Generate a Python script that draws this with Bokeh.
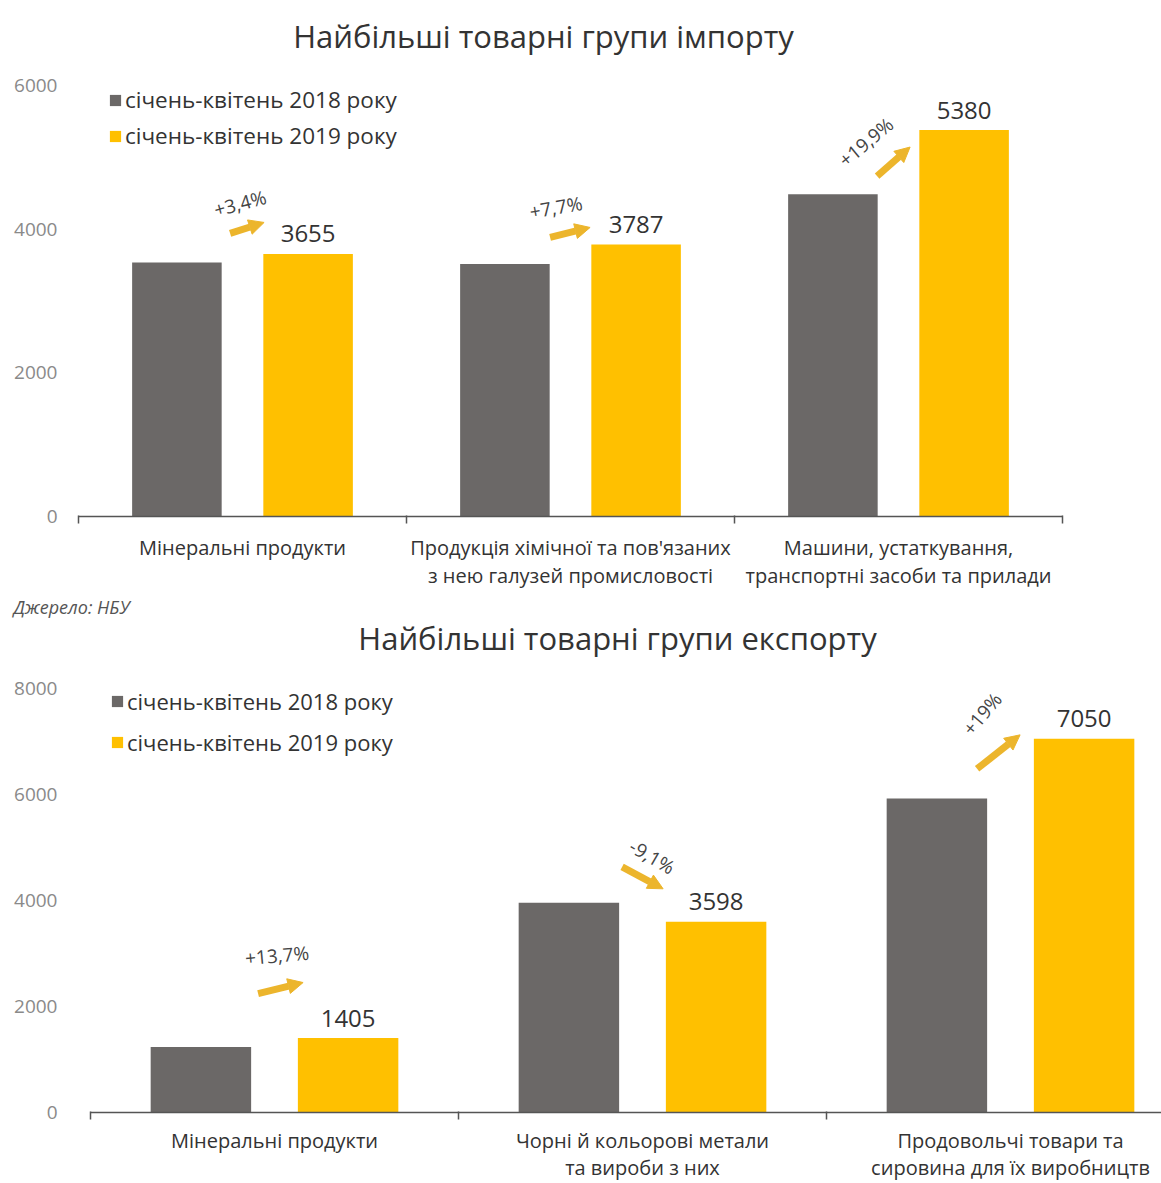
from bokeh.plotting import figure
from bokeh.models import (Range1d, FixedTicker, Label, Arrow, NormalHead,
                          Legend, LegendItem, ColumnDataSource, Title)
from bokeh.embed import file_html
from bokeh.resources import INLINE
from bokeh.core.properties import value

# ---------------- data ----------------
series_labels = ["січень-квітень 2018 року", "січень-квітень 2019 року"]

imp_title = "Найбільші товарні групи імпорту"
imp_categories = ["Мінеральні продукти",
                  "Продукція хімічної та пов'язаних\nз нею галузей промисловості",
                  "Машини, устаткування,\nтранспортні засоби та прилади"]
imp_2018 = [3535, 3516, 4487]
imp_2019 = [3655, 3787, 5380]
imp_change = ["+3,4%", "+7,7%", "+19,9%"]
imp_yticks = [0, 2000, 4000, 6000]

exp_title = "Найбільші товарні групи експорту"
exp_categories = ["Мінеральні продукти",
                  "Чорні й кольорові метали\nта вироби з них",
                  "Продовольчі товари та\nсировина для їх виробництв"]
exp_2018 = [1236, 3958, 5924]
exp_2019 = [1405, 3598, 7050]
exp_change = ["+13,7%", "-9,1%", "+19%"]
exp_yticks = [0, 2000, 4000, 6000, 8000]

source_text = "Джерело: НБУ"

# ---------------- style ----------------
FONT = "Open Sans"
GRAY = "#6b6867"
YELLOW = "#ffc000"
ARROW_C = "#ecb52c"
AXIS_C = "#555555"
TEXT_C = "#333333"

# frame: left page x (L), bottom page y (B), top page y (T); px per y-unit from tick spacing
imp_style = dict(height=618, L=78, B=516, T=0, bl=78, br=99, bb=102,
                 x_end=3.0, pxx=328.0, pxy=431.0 / 6000.0,
                 ystand=21, title_pos=(543, 35),
                 legend_loc=(30, 365), legend_spacing=5, legend_font="22.5px",
                 cat_standoff=10, cat_line_height=1.066,
                 arrows=[((-78, -20.5), (-44, -31.5), (-68, -50.5), 15),
                         ((-86, -7), (-46, -17), (-80, -37), 10),
                         ((-87, 46), (-54, 17), (-98, 12), 40)])

exp_style = dict(height=565, L=90, B=1112, T=618, bl=90, br=0, bb=71,
                 x_end=1071.0 / 368.0, pxx=368.0, pxy=424.0 / 8000.0,
                 ystand=33, title_pos=(617, 637),
                 legend_loc=(20, 355), legend_spacing=11, legend_font="22px",
                 cat_standoff=7, cat_line_height=1.01,
                 arrows=[((-90, -44.5), (-45, -55.5), (-71, -82.5), 5),
                         ((-94, -55), (-53, -33), (-64, -65), -30),
                         ((-107, 30), (-64, -4), (-102, -25), 50)])


def build(st, title, cats, v18, v19, changes, yticks, with_source):
    pxx = st["pxx"]
    pxy = st["pxy"]
    L, B, T = st["L"], st["B"], st["T"]
    y_top = (B - T) / pxy  # frame reaches up to the top of the figure (title lives inside it)

    p = figure(width=1161, height=st["height"],
               x_range=Range1d(0, st["x_end"]), y_range=Range1d(0, y_top),
               output_backend="svg", toolbar_location=None,
               min_border_left=st["bl"], min_border_right=st["br"],
               min_border_top=0, min_border_bottom=st["bb"])
    p.title.text = ""
    p.xgrid.visible = False
    p.ygrid.visible = False
    p.outline_line_color = None
    p.background_fill_color = "white"
    p.border_fill_color = "white"

    n = len(v18)
    x18 = [i + 0.5 - 0.2 for i in range(n)]
    x19 = [i + 0.5 + 0.2 for i in range(n)]
    s18 = ColumnDataSource(dict(x=x18, top=v18))
    s19 = ColumnDataSource(dict(x=x19, top=v19, lab=[str(v) for v in v19]))
    r18 = p.vbar(x="x", top="top", width=0.273, source=s18, fill_color=GRAY, line_color=None)
    r19 = p.vbar(x="x", top="top", width=0.273, source=s19, fill_color=YELLOW, line_color=None)
    p.text(x="x", y="top", text="lab", source=s19, text_align="center",
           text_baseline="alphabetic", y_offset=-20,
           text_font=value(FONT), text_font_size="24px", text_color=TEXT_C)

    # title (inside the invisible upper part of the frame)
    tx, ty = st["title_pos"]
    p.add_layout(Label(x=(tx - L) / pxx, y=(B - ty) / pxy, text=title,
                       text_align="center", text_baseline="middle",
                       text_font=FONT, text_font_size="31px", text_color=TEXT_C))

    # x axis: boundary ticks as minor ticks, category names as major labels
    centers = [i + 0.5 for i in range(n)]
    p.xaxis.ticker = FixedTicker(ticks=centers, minor_ticks=list(range(n + 1)))
    p.xaxis.major_label_overrides = {c: cats[i] for i, c in enumerate(centers)}
    p.xaxis.axis_line_color = AXIS_C
    p.xaxis.axis_line_width = 1.5
    p.xaxis.major_tick_line_color = None
    p.xaxis.major_tick_out = 0
    p.xaxis.major_tick_in = 0
    p.xaxis.minor_tick_line_color = AXIS_C
    p.xaxis.minor_tick_line_width = 1.5
    p.xaxis.minor_tick_out = 7
    p.xaxis.minor_tick_in = 1
    p.xaxis.major_label_standoff = st["cat_standoff"]
    p.xaxis.major_label_text_font = FONT
    p.xaxis.major_label_text_font_size = "20px"
    p.xaxis.major_label_text_color = TEXT_C
    p.xaxis.major_label_text_line_height = st["cat_line_height"]

    p.yaxis.ticker = FixedTicker(ticks=yticks)
    p.yaxis.axis_line_color = None
    p.yaxis.major_tick_line_color = None
    p.yaxis.minor_tick_line_color = None
    p.yaxis.major_tick_out = 0
    p.yaxis.major_tick_in = 0
    p.yaxis.major_label_standoff = st["ystand"]
    p.yaxis.major_label_text_font = FONT
    p.yaxis.major_label_text_font_size = "19px"
    p.yaxis.major_label_text_color = "#8a8a8a"

    # legend
    leg = Legend(items=[LegendItem(label=series_labels[0], renderers=[r18]),
                        LegendItem(label=series_labels[1], renderers=[r19])],
                 location=st["legend_loc"], orientation="vertical",
                 glyph_width=14, glyph_height=14, label_standoff=3,
                 padding=0, margin=0, spacing=st["legend_spacing"],
                 border_line_alpha=0, background_fill_alpha=0,
                 label_text_font=FONT, label_text_font_size=st["legend_font"],
                 label_text_color=TEXT_C)
    p.add_layout(leg)

    # change arrows and labels
    for i, ((sx0, sy0), (ex0, ey0), (lx0, ly0), ang) in enumerate(st["arrows"]):
        cx = x19[i]
        cy = v19[i]
        p.add_layout(Arrow(end=NormalHead(size=15, fill_color=ARROW_C, line_color=ARROW_C),
                           x_start=cx + sx0 / pxx, y_start=cy - sy0 / pxy,
                           x_end=cx + ex0 / pxx, y_end=cy - ey0 / pxy,
                           line_color=ARROW_C, line_width=7))
        p.add_layout(Label(x=cx + lx0 / pxx, y=cy - ly0 / pxy, text=changes[i],
                           angle=ang, angle_units="deg", text_align="center",
                           text_baseline="middle", text_font=FONT,
                           text_font_size="19px", text_color="#444444"))

    if with_source:
        src = Title(text=source_text, align="left", offset=13 - st["bl"], standoff=0,
                    text_font=FONT, text_font_style="italic", text_font_size="18px",
                    text_color="#555555")
        p.add_layout(src, "below")
    return p


p1 = build(imp_style, imp_title, imp_categories, imp_2018, imp_2019, imp_change, imp_yticks, True)
p2 = build(exp_style, exp_title, exp_categories, exp_2018, exp_2019, exp_change, exp_yticks, False)

open("out.html", "w").write(file_html([p1, p2], INLINE))
